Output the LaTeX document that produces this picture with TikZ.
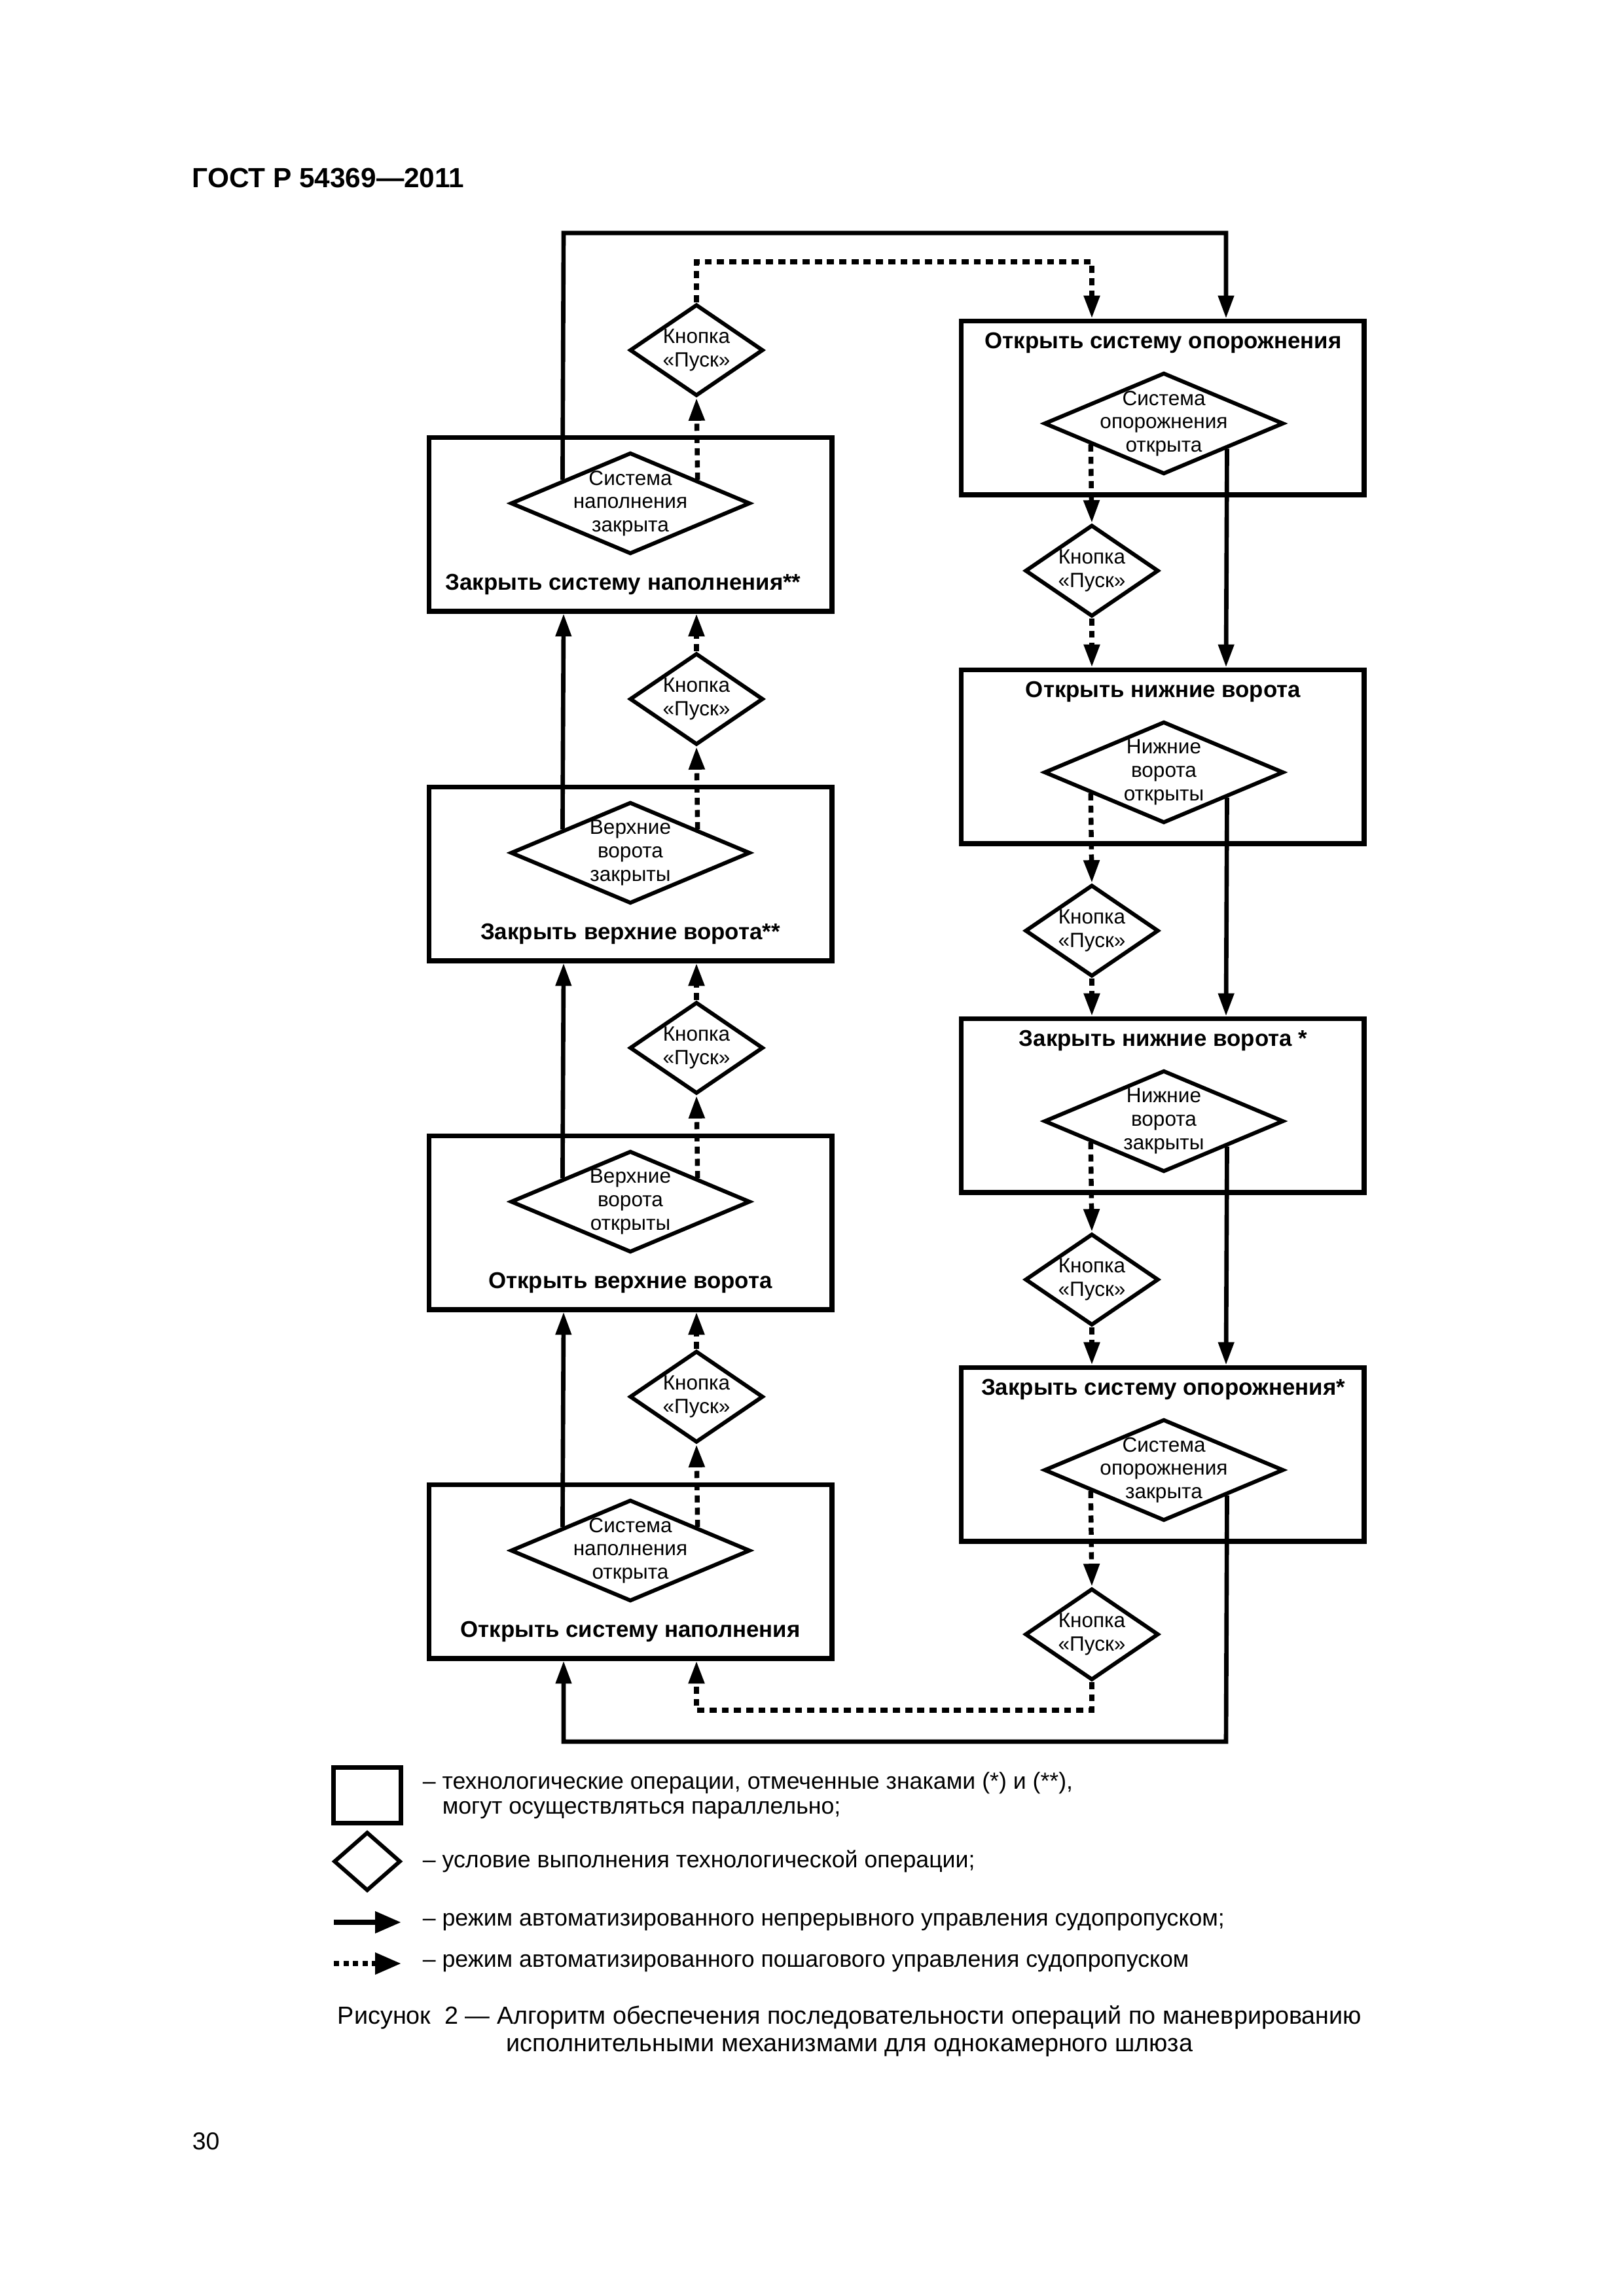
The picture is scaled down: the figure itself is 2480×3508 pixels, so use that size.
\documentclass[tikz,border=0pt]{standalone}
\usepackage{fontspec}
\setmainfont{Liberation Sans}
\usetikzlibrary{shapes.geometric,arrows.meta,calc}
\begin{document}
\begin{tikzpicture}[x=0.0084677cm,y=-0.0084677cm,
  >={Triangle[length=8.4pt,width=5.6pt]},
  opbox/.style={draw,line width=1.7pt,minimum width=5.216cm,minimum height=2.252cm,inner sep=0pt},
  cond/.style={draw,diamond,line width=1.45pt,minimum width=3.099cm,minimum height=1.3125cm,inner sep=0pt},
  btn/.style={draw,diamond,line width=1.45pt,minimum width=1.727cm,minimum height=1.185cm,inner sep=0pt},
  ctext/.style={align=center,inner sep=0pt,font=\fontsize{7.6}{8.6}\selectfont},
  oplabel/.style={inner sep=0pt,font=\fontsize{8.4}{10}\selectfont\bfseries},
  solidline/.style={line width=1.6pt},
  dotline/.style={line width=1.8pt,dash pattern=on 2.6pt off 1.9pt},
  lgtext/.style={anchor=west,inner sep=0pt,font=\fontsize{8.6}{10}\selectfont}]
\fill[white] (0,0) rectangle (2480,3508);
\useasboundingbox (0,0) rectangle (2480,3508);

\node[anchor=west,font=\fontsize{10.2}{12}\selectfont\bfseries,inner sep=0pt] (hdr) at (293,272) {ГОСТ Р 54369—2011};

% left column
\node[opbox] (bA) at (963,801) {};
\node[cond] (dA) at (963,769) {};
\node[ctext] (tA) at (dA) {Система\\наполнения\\закрыта};
\node[oplabel] (lA) at (952,893) {Закрыть систему наполнения**};

\node[opbox] (bB) at (963,1335) {};
\node[cond] (dB) at (963,1303) {};
\node[ctext] (tB) at (dB) {Верхние\\ворота\\закрыты};
\node[oplabel] (lB) at (963,1427) {Закрыть верхние ворота**};

\node[opbox] (bC) at (963,1868) {};
\node[cond] (dC) at (963,1836) {};
\node[ctext] (tC) at (dC) {Верхние\\ворота\\открыты};
\node[oplabel] (lC) at (963,1960) {Открыть верхние ворота};

\node[opbox] (bD) at (963,2401) {};
\node[cond] (dD) at (963,2369) {};
\node[ctext] (tD) at (dD) {Система\\наполнения\\открыта};
\node[oplabel] (lD) at (963,2493) {Открыть систему наполнения};

% right column
\node[opbox] (bE) at (1776,623) {};
\node[cond] (dE) at (1778,647) {};
\node[ctext] (tE) at (dE) {Система\\опорожнения\\открыта};
\node[oplabel] (lE) at (1777,524) {Открыть систему опорожнения};

\node[opbox] (bF) at (1776,1156) {};
\node[cond] (dF) at (1778,1180) {};
\node[ctext] (tF) at (dF) {Нижние\\ворота\\открыты};
\node[oplabel] (lF) at (1777,1057) {Открыть нижние ворота};

\node[opbox] (bG) at (1776,1689) {};
\node[cond] (dG) at (1778,1713) {};
\node[ctext] (tG) at (dG) {Нижние\\ворота\\закрыты};
\node[oplabel] (lG) at (1777,1590) {Закрыть нижние ворота *};

\node[opbox] (bH) at (1776,2222) {};
\node[cond] (dH) at (1778,2246) {};
\node[ctext] (tH) at (dH) {Система\\опорожнения\\закрыта};
\node[oplabel] (lH) at (1777,2123) {Закрыть систему опорожнения*};

% start buttons
\foreach \n/\x/\y in {kA/1064/535,kB/1064/1068,kC/1064/1601,kD/1064/2134,kE/1668/872,kF/1668/1422,kG/1668/1955,kH/1668/2497}{
  \node[btn] (\n) at (\x,\y) {};
  \node[ctext] (\n t) at (\n) {Кнопка\\«Пуск»};
}

% corner coordinates
\coordinate (topL) at (861,356);
\coordinate (topR) at (1873,356);
\coordinate (dtopL) at (1064,400);
\coordinate (dtopR) at (1668,400);
\coordinate (botR) at (1873,2661);
\coordinate (botL) at (861,2661);
\coordinate (dbotR) at (1668,2613);
\coordinate (dbotL) at (1064,2613);

% top loop
\draw[solidline,->] ($(dA.north)!0.557!(dA.west)$) -- (topL) -- (topR) -- (bE.north -| topR);
\draw[dotline,->] ($(dA.north)!0.552!(dA.east)$) -- (kA.south);
\draw[dotline,->] (kA.north) -- (dtopL) -- (dtopR) -- (bE.north -| dtopR);

% left column upward
\foreach \d/\k/\b in {dB/kB/bA,dC/kC/bB,dD/kD/bC}{
  \draw[solidline,->] ($(\d.north)!0.557!(\d.west)$) -- (\b.south -| topL);
  \draw[dotline,->] ($(\d.north)!0.552!(\d.east)$) -- (\k.south);
  \draw[dotline,->] (\k.north) -- (\b.south -| dtopL);
}

% right column downward
\foreach \d/\k/\b in {dE/kE/bF,dF/kF/bG,dG/kG/bH}{
  \draw[solidline,->] ($(\d.south)!0.519!(\d.east)$) -- (\b.north -| topR);
  \draw[dotline,->] ($(\d.south)!0.601!(\d.west)$) -- (\k.north);
  \draw[dotline,->] (\k.south) -- (\b.north -| dtopR);
}

% bottom loop
\draw[solidline,->] ($(dH.south)!0.519!(dH.east)$) -- (botR) -- (botL) -- (bD.south -| botL);
\draw[dotline,->] ($(dH.south)!0.601!(dH.west)$) -- (kH.north);
\draw[dotline,->] (kH.south) -- (dbotR) -- (dbotL) -- (bD.south -| dbotL);

% legend
\node[draw,line width=1.9pt,minimum width=0.872cm,minimum height=0.72cm,inner sep=0pt] (lgbox) at (561,2743) {};
\node[draw,diamond,line width=1.45pt,minimum width=0.864cm,minimum height=0.762cm,inner sep=0pt] (lgdia) at (561,2844) {};
\coordinate (lgs1) at (510,2937);
\coordinate (lgs2) at (613,2937);
\coordinate (lgd1) at (510,3000);
\coordinate (lgd2) at (613,3000);
\draw[line width=2pt,-{Triangle[length=9.6pt,width=7.6pt]}] (lgs1) -- (lgs2);
\draw[line width=2pt,dash pattern=on 2pt off 1.5pt,-{Triangle[length=9.6pt,width=7.6pt]}] (lgd1) -- (lgd2);
\node[lgtext] (lg1) at (645,2724) {– технологические операции, отмеченные знаками (*) и (**),};
\node[lgtext] (lg1b) at (675,2766) {могут осуществляться параллельно;};
\node[lgtext] (lg2) at (645,2844) {– условие выполнения технологической операции;};
\node[lgtext] (lg3) at (645,2937) {– режим автоматизированного непрерывного управления судопропуском;};
\node[lgtext] (lg4) at (645,3000) {– режим автоматизированного пошагового управления судопропуском};

% caption
\node[align=center,inner sep=0pt,font=\fontsize{9.1}{10.1}\selectfont] (cap) at (1298,3103) {Рисунок\ \ 2 — Алгоритм обеспечения последовательности операций по маневрированию\\исполнительными механизмами для однокамерного шлюза};

\node[anchor=west,font=\fontsize{9}{11}\selectfont,inner sep=0pt] (pg) at (293,3272) {30};
\end{tikzpicture}
\end{document}
